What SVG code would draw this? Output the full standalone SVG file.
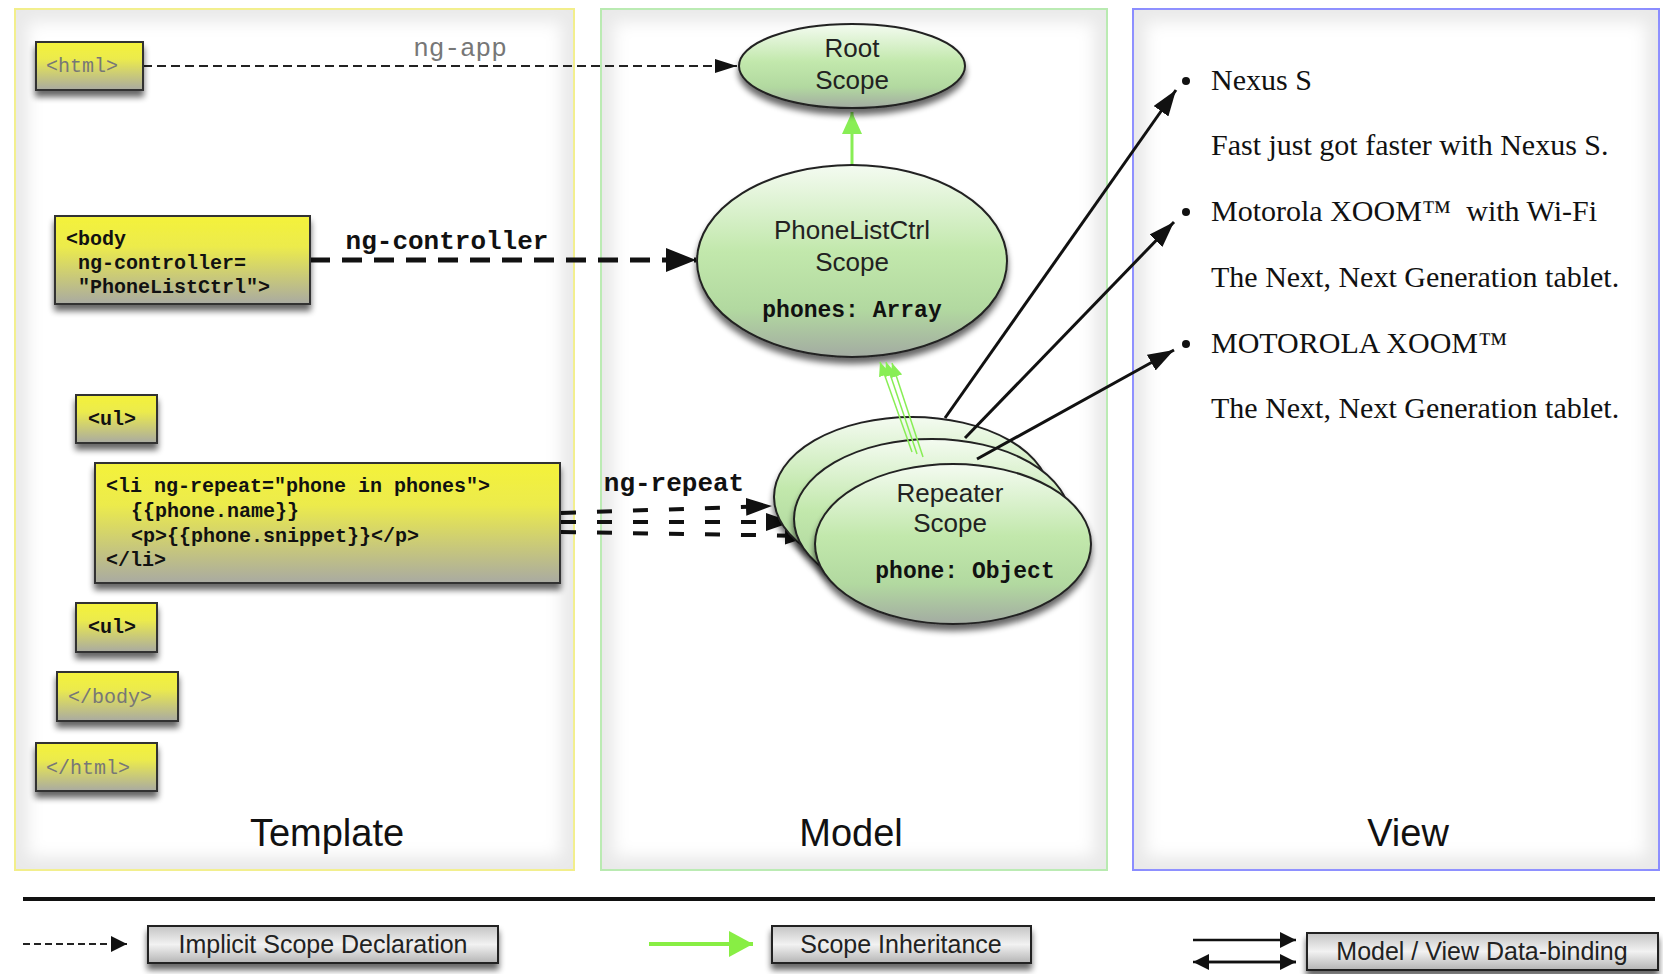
<svg xmlns="http://www.w3.org/2000/svg" width="1663" height="974" viewBox="0 0 1663 974">
<defs>
<style>
.panel{fill:#e9e9e9;stroke-width:2}
.inner{fill:#ffffff;filter:url(#soft)}
.plabel{font-family:"Liberation Sans",Arial,sans-serif;font-size:38px;fill:#111;text-anchor:middle}
.box{fill:url(#yel);stroke:#333;stroke-width:2;filter:url(#shadow)}
.mono{font-family:"Liberation Mono","Courier New",monospace;font-size:20px}
.bold{font-weight:bold;fill:#111}
.gray{fill:#777}
.ell{fill:url(#grn);stroke:#222;stroke-width:2;filter:url(#shadow)}
.etext{font-family:"Liberation Sans",Arial,sans-serif;font-size:26px;fill:#222;text-anchor:middle}
.emono{font-family:"Liberation Mono","Courier New",monospace;font-size:23px;font-weight:bold;fill:#111;text-anchor:middle}
.view{font-family:"Liberation Serif","Times New Roman",serif;font-size:30px;fill:#111}
.lbox{fill:url(#lgray);stroke:#222;stroke-width:2;filter:url(#shadow)}
.ltext{font-family:"Liberation Sans",Arial,sans-serif;font-size:25px;fill:#222;text-anchor:middle}
.lab{font-family:"Liberation Mono","Courier New",monospace;font-size:26px}
</style>
<linearGradient id="yel" x1="0" y1="0" x2="0" y2="1">
<stop offset="0" stop-color="#f4f23a"/><stop offset="0.35" stop-color="#eceb4c"/><stop offset="1" stop-color="#a9aaa2"/>
</linearGradient>
<linearGradient id="grn" x1="0" y1="0" x2="0" y2="1">
<stop offset="0" stop-color="#f4fbf1"/><stop offset="0.45" stop-color="#c2e8ac"/><stop offset="0.75" stop-color="#b2d9a0"/><stop offset="1" stop-color="#a3aba2"/>
</linearGradient>
<linearGradient id="lgray" x1="0" y1="0" x2="0" y2="1">
<stop offset="0" stop-color="#c4c4c4"/><stop offset="0.5" stop-color="#f2f2f2"/><stop offset="1" stop-color="#b4b4b4"/>
</linearGradient>
<filter id="shadow" x="-20%" y="-20%" width="140%" height="150%">
<feGaussianBlur in="SourceAlpha" stdDeviation="3"/>
<feOffset dx="0" dy="6" result="o"/>
<feComponentTransfer><feFuncA type="linear" slope="0.6"/></feComponentTransfer>
<feMerge><feMergeNode/><feMergeNode in="SourceGraphic"/></feMerge>
</filter>
<filter id="soft" x="-5%" y="-5%" width="110%" height="110%">
<feGaussianBlur stdDeviation="8"/>
</filter>
<marker id="ahThin" markerUnits="userSpaceOnUse" markerWidth="22" markerHeight="14" refX="22" refY="7" orient="auto">
<path d="M0,0 L22,7 L0,14 Z" fill="#111"/>
</marker>
<marker id="ahThick" markerUnits="userSpaceOnUse" markerWidth="30" markerHeight="24" refX="30" refY="12" orient="auto">
<path d="M0,0 L30,12 L0,24 Z" fill="#111"/>
</marker>
<marker id="ahMed" markerUnits="userSpaceOnUse" markerWidth="26" markerHeight="18" refX="26" refY="9" orient="auto">
<path d="M0,0 L26,9 L0,18 Z" fill="#111"/>
</marker>
<marker id="ahGreenS" markerUnits="userSpaceOnUse" markerWidth="14" markerHeight="12" refX="14" refY="6" orient="auto">
<path d="M0,0 L14,6 L0,12 Z" fill="#88ee55"/>
</marker>
<marker id="ahGreen" markerUnits="userSpaceOnUse" markerWidth="22" markerHeight="20" refX="22" refY="10" orient="auto">
<path d="M0,0 L22,10 L0,20 Z" fill="#88ee55"/>
</marker>
<marker id="ahGreenL" markerUnits="userSpaceOnUse" markerWidth="24" markerHeight="26" refX="24" refY="13" orient="auto">
<path d="M0,0 L24,13 L0,26 Z" fill="#88ee44"/>
</marker>
<marker id="ahLeg" markerUnits="userSpaceOnUse" markerWidth="16" markerHeight="16" refX="16" refY="8" orient="auto">
<path d="M0,0 L16,8 L0,16 Z" fill="#111"/>
</marker>
</defs>

<rect width="1663" height="974" fill="#ffffff"/>

<g id="panels">
<rect class="panel" x="15" y="9" width="559" height="861" stroke="#f2ee8a"/>
<rect class="inner" x="28" y="22" width="533" height="835"/>
<rect class="panel" x="601" y="9" width="506" height="861" stroke="#b8eab0"/>
<rect class="inner" x="614" y="22" width="480" height="835"/>
<rect class="panel" x="1133" y="9" width="526" height="861" stroke="#8a8cff"/>
<rect class="inner" x="1146" y="22" width="500" height="835"/>
<text class="plabel" x="327" y="846">Template</text>
<text class="plabel" x="851" y="846">Model</text>
<text class="plabel" x="1408" y="846">View</text>
</g>

<g id="connectors">
<line x1="143" y1="66" x2="737" y2="66" stroke="#222" stroke-width="2" stroke-dasharray="9,5" marker-end="url(#ahThin)"/>
<text class="lab gray" x="460" y="56" text-anchor="middle">ng-app</text>
<line x1="310" y1="260" x2="696" y2="260" stroke="#111" stroke-width="5" stroke-dasharray="20,12" marker-end="url(#ahThick)"/>
<text class="lab bold" x="447" y="249" text-anchor="middle">ng-controller</text>
<line x1="852" y1="165" x2="852" y2="112" stroke="#88ee55" stroke-width="3" marker-end="url(#ahGreen)"/>
<text class="lab bold" x="674" y="491" text-anchor="middle">ng-repeat</text>
<line x1="561" y1="513" x2="772" y2="506" stroke="#111" stroke-width="4" stroke-dasharray="15,21" marker-end="url(#ahMed)"/>
<line x1="561" y1="522" x2="792" y2="522" stroke="#111" stroke-width="4" stroke-dasharray="15,21" marker-end="url(#ahMed)"/>
<line x1="561" y1="532" x2="811" y2="536" stroke="#111" stroke-width="4" stroke-dasharray="15,21" marker-end="url(#ahMed)"/>
</g>

<g id="node-root">
<ellipse class="ell" cx="852" cy="66" rx="113" ry="42"/>
<text class="etext" x="852" y="57">Root</text>
<text class="etext" x="852" y="89">Scope</text>
</g>

<g id="node-phonelistctrl">
<ellipse class="ell" cx="852" cy="261" rx="155" ry="96"/>
<text class="etext" x="852" y="239">PhoneListCtrl</text>
<text class="etext" x="852" y="271">Scope</text>
<text class="emono" x="852" y="317">phones: Array</text>
</g>

<g id="node-repeater">
<ellipse class="ell" cx="912" cy="497" rx="138" ry="80"/>
<ellipse class="ell" cx="932" cy="519" rx="138" ry="80"/>
<ellipse class="ell" cx="953" cy="544" rx="138" ry="80"/>
<text class="etext" x="950" y="502">Repeater</text>
<text class="etext" x="950" y="532">Scope</text>
<text class="emono" x="965" y="578">phone: Object</text>
</g>

<g id="connectors-binding">
<line x1="912" y1="452" x2="880" y2="362" stroke="#88ee55" stroke-width="1.5" marker-end="url(#ahGreenS)"/>
<line x1="917" y1="454" x2="886" y2="362" stroke="#88ee55" stroke-width="1.5" marker-end="url(#ahGreenS)"/>
<line x1="923" y1="457" x2="892" y2="363" stroke="#88ee55" stroke-width="1.5" marker-end="url(#ahGreenS)"/>
<line x1="945" y1="418" x2="1176" y2="90" stroke="#111" stroke-width="3" marker-end="url(#ahMed)"/>
<line x1="965" y1="438" x2="1174" y2="222" stroke="#111" stroke-width="3" marker-end="url(#ahMed)"/>
<line x1="977" y1="459" x2="1174" y2="350" stroke="#111" stroke-width="3" marker-end="url(#ahMed)"/>
</g>

<g id="node-html">
<rect class="box" x="36" y="42" width="107" height="48"/>
<text class="mono gray" x="46" y="72">&lt;html&gt;</text>
</g>
<g id="node-body">
<rect class="box" x="55" y="216" width="255" height="88"/>
<text class="mono bold" x="66" y="245">&lt;body</text>
<text class="mono bold" x="78" y="269">ng-controller=</text>
<text class="mono bold" x="78" y="293">"PhoneListCtrl"&gt;</text>
</g>
<g id="node-ul1">
<rect class="box" x="76" y="395" width="81" height="48"/>
<text class="mono bold" x="88" y="425">&lt;ul&gt;</text>
</g>
<g id="node-li">
<rect class="box" x="95" y="463" width="465" height="120"/>
<text class="mono bold" x="106" y="492">&lt;li ng-repeat="phone in phones"&gt;</text>
<text class="mono bold" x="131" y="517">{{phone.name}}</text>
<text class="mono bold" x="131" y="542">&lt;p&gt;{{phone.snippet}}&lt;/p&gt;</text>
<text class="mono bold" x="106" y="566">&lt;/li&gt;</text>
</g>
<g id="node-ul2">
<rect class="box" x="76" y="603" width="81" height="49"/>
<text class="mono bold" x="88" y="633">&lt;ul&gt;</text>
</g>
<g id="node-body-close">
<rect class="box" x="57" y="672" width="121" height="49"/>
<text class="mono gray" x="68" y="703">&lt;/body&gt;</text>
</g>
<g id="node-html-close">
<rect class="box" x="36" y="743" width="121" height="48"/>
<text class="mono gray" x="46" y="774">&lt;/html&gt;</text>
</g>

<g id="node-view">
<circle cx="1186" cy="81" r="4" fill="#111"/>
<text class="view" x="1211" y="90">Nexus S</text>
<text class="view" x="1211" y="155">Fast just got faster with Nexus S.</text>
<circle cx="1186" cy="212" r="4" fill="#111"/>
<text class="view" x="1211" y="221" xml:space="preserve">Motorola XOOM™  with Wi-Fi</text>
<text class="view" x="1211" y="287">The Next, Next Generation tablet.</text>
<circle cx="1186" cy="344" r="4" fill="#111"/>
<text class="view" x="1211" y="353">MOTOROLA XOOM™</text>
<text class="view" x="1211" y="418">The Next, Next Generation tablet.</text>
</g>

<g id="legend">
<line x1="23" y1="899" x2="1655" y2="899" stroke="#111" stroke-width="4"/>
<line x1="23" y1="944" x2="127" y2="944" stroke="#222" stroke-width="2" stroke-dasharray="7,4" marker-end="url(#ahLeg)"/>
<rect class="lbox" x="148" y="926" width="350" height="37"/>
<text class="ltext" x="323" y="953">Implicit Scope Declaration</text>
<line x1="649" y1="944" x2="753" y2="944" stroke="#88ee44" stroke-width="4" marker-end="url(#ahGreenL)"/>
<rect class="lbox" x="772" y="926" width="259" height="37"/>
<text class="ltext" x="901" y="953">Scope Inheritance</text>
<line x1="1193" y1="940" x2="1296" y2="940" stroke="#111" stroke-width="2.5" marker-end="url(#ahLeg)"/>
<line x1="1296" y1="962" x2="1193" y2="962" stroke="#111" stroke-width="2.5" marker-end="url(#ahLeg)"/>
<line x1="1200" y1="962" x2="1296" y2="962" stroke="#111" stroke-width="2.5" marker-end="url(#ahLeg)"/>
<rect class="lbox" x="1307" y="933" width="351" height="37"/>
<text class="ltext" x="1482" y="960">Model / View Data-binding</text>
</g>
</svg>
